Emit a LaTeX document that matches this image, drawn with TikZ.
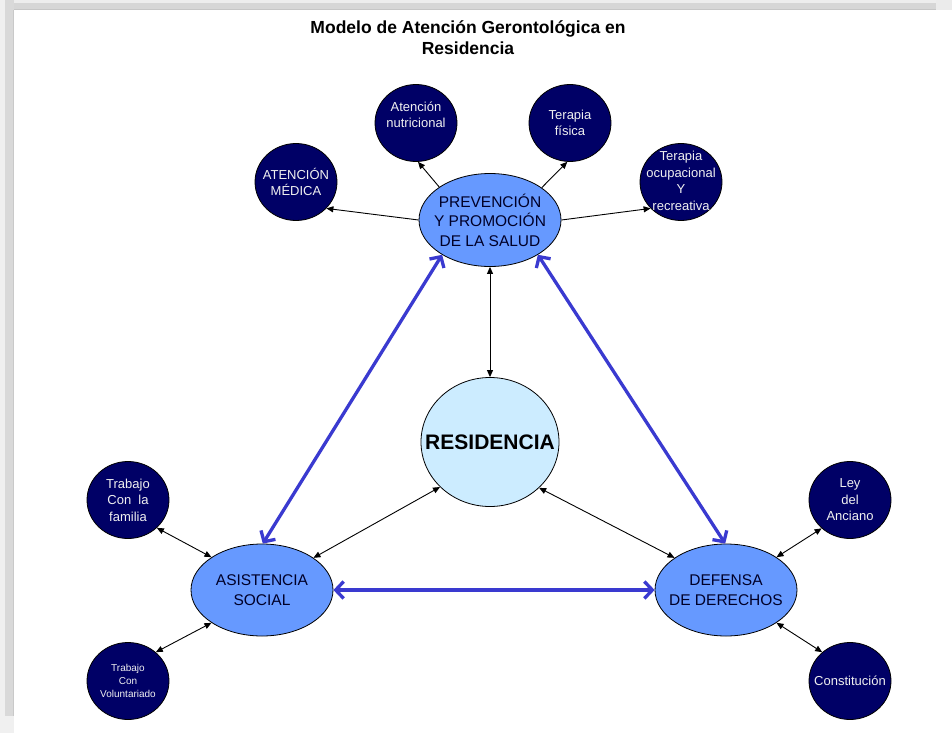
\documentclass[tikz,border=0pt]{standalone}
\usepackage{fontspec}
\setmainfont{Liberation Sans}
\usetikzlibrary{shapes.geometric,arrows.meta}
\definecolor{navy}{RGB}{0,0,102}
\definecolor{midblue}{RGB}{102,153,255}
\definecolor{paleblue}{RGB}{204,236,255}
\definecolor{arrowblue}{RGB}{58,58,208}
\definecolor{hubtext}{RGB}{0,0,40}
\begin{document}
\begin{tikzpicture}[x=1pt,y=-1pt,
  sat/.style={draw=black, line width=0.8pt, fill=navy, ellipse, minimum width=82pt, minimum height=77pt, inner sep=0pt},
  sattext/.style={text=white!94!black, align=center, font=\fontsize{13}{16.5}\selectfont, inner sep=0pt},
  smalltext/.style={text=white!94!black, align=center, font=\fontsize{10}{13}\selectfont, inner sep=0pt},
  hub/.style={draw=black, line width=0.8pt, fill=midblue, ellipse, minimum width=142pt, minimum height=92pt, inner sep=0pt},
  hubtext/.style={text=hubtext, align=center, font=\fontsize{15.5}{19.5}\selectfont, inner sep=0pt},
  titletext/.style={font=\bfseries\fontsize{17.5}{21}\selectfont, anchor=base, inner sep=0pt},
  conn/.style={line width=0.9pt, -{Triangle[length=7pt,width=6pt]}},
  biconn/.style={line width=0.9pt, {Triangle[length=7pt,width=6pt]}-{Triangle[length=7pt,width=6pt]}},
  bigconn/.style={draw=arrowblue, line width=3.3pt, {Straight Barb[length=8pt,width=17pt]}-{Straight Barb[length=8pt,width=17pt]}}]
\useasboundingbox (0,0) rectangle (952,733);
\fill[white] (0,0) rectangle (952,733);
% frame shadow
\fill[gray!32] (0,0) rectangle (952,10.5);
\fill[gray!14] (0,0) rectangle (952,3);
\fill[gray!16] (936,0) rectangle (952,10.5);
\fill[gray!45] (14,9) rectangle (936,10.5);
\fill[gray!30] (0,0) rectangle (14,733);
\fill[gray!12] (0,0) rectangle (5,733);
\fill[gray!12] (0,716) rectangle (14,733);
\fill[gray!42] (12.5,10.5) rectangle (14,716);
\fill[white] (14,10.5) rectangle (952,733);

% title
\node[titletext] (title1) at (468,34) {Modelo de Atención Gerontológica en};
\node[titletext] (title2) at (468,55) {Residencia};

% hubs
\node[hub, minimum height=93pt, label={[hubtext]center:PREVENCIÓN\\Y PROMOCIÓN\\DE LA SALUD}] (prev) at (490,220) {};
\node[ellipse, draw=black, line width=0.8pt, fill=paleblue, minimum width=138pt, minimum height=129pt, inner sep=0pt,
      label={[font=\bfseries\fontsize{21}{24}\selectfont, inner sep=0pt]center:RESIDENCIA}] (res) at (490,442) {};
\node[hub, label={[hubtext]center:ASISTENCIA\\SOCIAL}] (asist) at (262,590) {};
\node[hub, label={[hubtext]center:DEFENSA\\DE DERECHOS}] (def) at (726,590) {};

% satellites
\node[sat, label={[sattext]center:ATENCIÓN\\MÉDICA}] (med) at (296,182) {};
\node[sat, label={[sattext, yshift=8pt]center:Atención\\nutricional}] (nutri) at (416,123) {};
\node[sat, label={[sattext]center:Terapia\\física}] (fis) at (570,123) {};
\node[sat, label={[sattext, yshift=1pt]center:Terapia\\ocupacional\\Y\\recreativa}] (ocup) at (681,182) {};
\node[sat, label={[sattext]center:Trabajo\\Con\ \ la\\familia}] (fam) at (128,500) {};
\node[sat, label={[smalltext]center:Trabajo\\Con\\Voluntariado}] (vol) at (128,681) {};
\node[sat, label={[sattext]center:Ley\\del\\Anciano}] (ley) at (850,500) {};
\node[sat, label={[sattext]center:Constitución}] (const) at (850,681) {};

% connectors
\draw[conn] (prev.180) -- (med.319);
\draw[conn] (prev.147) -- (nutri.273);
\draw[conn] (prev.32) -- (fis.266);
\draw[conn] (prev.0) -- (ocup.221);
\draw[biconn] (prev.270) -- (res.90);
\draw[biconn] (res.222) -- (asist.32);
\draw[biconn] (res.317) -- (def.148);
\draw[biconn] (asist.147) -- (fam.316);
\draw[biconn] (asist.213) -- (vol.46);
\draw[biconn] (def.33) -- (ley.225);
\draw[biconn] (def.327) -- (const.134);
\draw[bigconn] (prev.216) -- (asist.89);
\draw[bigconn] (prev.324) -- (def.91);
\draw[bigconn] (asist.0) -- (def.180);
\end{tikzpicture}
\end{document}
